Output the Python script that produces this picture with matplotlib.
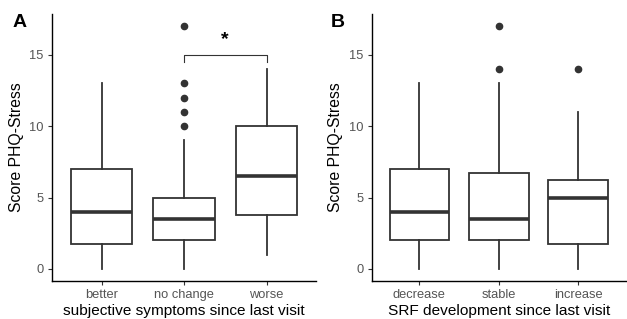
import matplotlib
matplotlib.use("Agg")
import matplotlib.pyplot as plt

plt.rcParams['font.family'] = ['Liberation Sans', 'DejaVu Sans']

# panel A: subjective symptoms
cats_a = ["better", "no change", "worse"]
lo_a = [0, 0, 1]
q1_a = [1.75, 2, 3.75]
med_a = [4, 3.5, 6.5]
q3_a = [7, 5, 10]
hi_a = [13, 9, 14]
out_a = [[], [10, 11, 12, 13, 17], []]

# panel B: SRF development
cats_b = ["decrease", "stable", "increase"]
lo_b = [0, 0, 0]
q1_b = [2, 2, 1.75]
med_b = [4, 3.5, 5]
q3_b = [7, 6.75, 6.25]
hi_b = [13, 13, 11]
out_b = [[], [14, 17], [14]]

LINE = "#333333"
TICK = "#555555"


def draw_panel(ax, cats, lo, q1, med, q3, hi, outs, xlabel):
    stats = []
    for i in range(len(cats)):
        stats.append(dict(whislo=lo[i], q1=q1[i], med=med[i], q3=q3[i],
                          whishi=hi[i], fliers=outs[i]))
    ax.bxp(stats, positions=[1, 2, 3], widths=0.75, showcaps=False,
           patch_artist=True,
           boxprops=dict(facecolor="white", edgecolor=LINE, linewidth=1.3),
           medianprops=dict(color=LINE, linewidth=2.6, solid_capstyle="butt"),
           whiskerprops=dict(color=LINE, linewidth=1.3),
           flierprops=dict(marker="o", markerfacecolor=LINE,
                           markeredgecolor=LINE, markersize=4.5))
    ax.set_xlim(0.4, 3.6)
    ax.set_ylim(-0.85, 17.85)
    ax.set_yticks([0, 5, 10, 15])
    ax.set_xticks([1, 2, 3])
    ax.set_xticklabels(cats)
    for s in ["top", "right"]:
        ax.spines[s].set_visible(False)
    for s in ["left", "bottom"]:
        ax.spines[s].set_linewidth(1.0)
        ax.spines[s].set_color("black")
    ax.tick_params(axis="both", colors=LINE, labelcolor=TICK, labelsize=9.3,
                   length=3, width=0.8, pad=3)
    ax.set_ylabel("Score PHQ-Stress", fontsize=11.3, labelpad=4)
    ax.set_xlabel(xlabel, fontsize=11.1, labelpad=2)


fig = plt.figure(figsize=(6.27, 3.19), dpi=100)
ax_a = fig.add_axes([0.083, 0.119, 0.421, 0.837])
ax_b = fig.add_axes([0.593, 0.119, 0.405, 0.837])

draw_panel(ax_a, cats_a, lo_a, q1_a, med_a, q3_a, hi_a, out_a,
           "subjective symptoms since last visit")
draw_panel(ax_b, cats_b, lo_b, q1_b, med_b, q3_b, hi_b, out_b,
           "SRF development since last visit")

# significance bracket between "no change" and "worse"
ax_a.plot([2, 2, 3, 3], [14.5, 15, 15, 14.5], color=LINE, linewidth=0.8)
ax_a.text(2.5, 15.5, "*", ha="center", va="bottom", fontsize=14,
          fontweight="bold")

fig.text(0.032, 0.93, "A", fontsize=14, fontweight="bold", ha="center",
         va="center")
fig.text(0.539, 0.93, "B", fontsize=14, fontweight="bold", ha="center",
         va="center")

fig.savefig("out.png", dpi=100, facecolor="white")
